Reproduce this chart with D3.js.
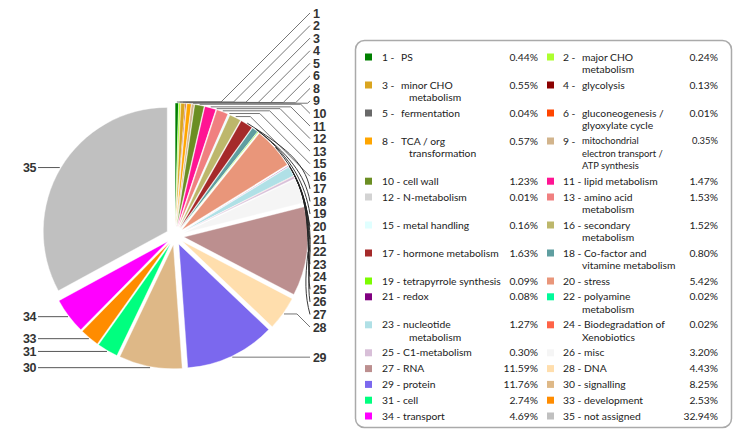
<!DOCTYPE html>
<html>
<head>
<meta charset="utf-8">
<script src="https://cdn.jsdelivr.net/npm/d3@7"></script>
<style>
  html, body { margin: 0; padding: 0; background: #fff; }
  svg { display: block; }
</style>
</head>
<body>
<svg id="chart" width="738" height="443"></svg>
<script>
// ---- data ----
const ids = [1, 2, 3, 4, 5, 6, 8, 9, 10, 11, 12, 13, 15, 16, 17, 18, 19, 20, 21, 22, 23, 24, 25, 26, 27, 28, 29, 30, 31, 33, 34, 35];
const names = [
  "PS", "major CHO\nmetabolism", "minor CHO\nmetabolism", "glycolysis",
  "fermentation", "gluconeogenesis /\nglyoxylate cycle", "TCA / org\ntransformation",
  "mitochondrial\nelectron transport /\nATP synthesis", "cell wall", "lipid metabolism",
  "N-metabolism", "amino acid\nmetabolism", "metal handling", "secondary\nmetabolism",
  "hormone metabolism", "Co-factor and\nvitamine metabolism", "tetrapyrrole synthesis",
  "stress", "redox", "polyamine\nmetabolism", "nucleotide\nmetabolism",
  "Biodegradation of\nXenobiotics", "C1-metabolism", "misc", "RNA", "DNA", "protein",
  "signalling", "cell", "development", "transport", "not assigned"
];
const values = [0.44, 0.24, 0.55, 0.13, 0.04, 0.01, 0.57, 0.35, 1.23, 1.47, 0.01, 1.53, 0.16, 1.52,
  1.63, 0.80, 0.09, 5.42, 0.08, 0.02, 1.27, 0.02, 0.30, 3.20, 11.59, 4.43, 11.76, 8.25, 2.74, 2.53, 4.69, 32.94];
const colors = ["#008000", "#adff2f", "#daa520", "#8b0000", "#696969", "#ff4500", "#ffa500", "#d2b48c",
  "#6b8e23", "#ff1493", "#d3d3d3", "#f08080", "#e0ffff", "#bdb76b", "#a52a2a", "#5f9ea0", "#7cfc00",
  "#e9967a", "#800080", "#00fa9a", "#b0e0e6", "#ff6347", "#d8bfd8", "#f5f5f5", "#bc8f8f", "#ffdead",
  "#7b68ee", "#deb887", "#00ff7f", "#ff8c00", "#ff00ff", "#c0c0c0"];

const data = ids.map((id, i) => ({ id, name: names[i], value: values[i], color: colors[i] }));

// ---- pie ----
const svg = d3.select("#chart");
const cx = 175, cy = 236, R = 124, explode = 9;

const pie = d3.pie().sort(null).value(d => d.value);
const arcs = pie(data);
const arcGen = d3.arc().innerRadius(0).outerRadius(R);

const g = svg.append("g").attr("transform", `translate(${cx},${cy})`);

arcs.forEach(a => {
  const mid = (a.startAngle + a.endAngle) / 2;
  a.mid = mid;
  a.ox = Math.sin(mid) * explode;
  a.oy = -Math.cos(mid) * explode;
  a.px = cx + a.ox + Math.sin(mid) * (R + 1);
  a.py = cy + a.oy - Math.cos(mid) * (R + 1);
});

g.selectAll("path.slice")
  .data(arcs)
  .join("path")
  .attr("class", "slice")
  .attr("transform", d => `translate(${d.ox},${d.oy})`)
  .attr("d", arcGen)
  .attr("fill", d => d.data.color)
  .attr("stroke", "#fff")
  .attr("stroke-width", 0.4);

// ---- pie labels ----
const labelX = 313;
const right = arcs.filter(a => a.mid < Math.PI);
const left = arcs.filter(a => a.mid >= Math.PI);
const step = 12.56;
right.forEach((a, i) => {
  const stacked = 13 + i * step;
  a.ly = a.mid > Math.PI / 2 ? Math.max(stacked, a.py) : stacked;
});
left.sort((a, b) => a.py - b.py);
let prev = -Infinity;
left.forEach(a => { a.ly = Math.max(a.py, prev + 12); prev = a.ly; });

const labelFont = "'Liberation Sans', Arial, sans-serif";
const lg = svg.append("g");
right.forEach(a => {
  const ex = labelX - 3;
  const dy = Math.abs(a.ly - a.py);
  const elbowX = ex - dy;
  if (elbowX > a.px + 5) {
    lg.append("path").attr("d", `M${a.px},${a.py}L${elbowX},${a.py}L${ex},${a.ly}`)
      .attr("fill", "none").attr("stroke", "#666").attr("stroke-width", 0.9);
  } else {
    const dist = Math.hypot(ex - a.px, a.ly - a.py);
    const tx = Math.cos(a.mid), ty = Math.sin(a.mid);
    const p1x = a.px + tx * dist * 0.45, p1y = a.py + ty * dist * 0.45;
    lg.append("path").attr("d", `M${a.px},${a.py}C${p1x},${p1y} ${ex - 5},${a.ly - dist * 0.3} ${ex},${a.ly}`)
      .attr("fill", "none").attr("stroke", "#222").attr("stroke-width", 0.9);
  }
  lg.append("text")
    .attr("x", labelX).attr("y", a.ly).attr("dy", "0.36em")
    .attr("font-family", labelFont)
    .attr("font-weight", "bold").attr("font-size", 12.5).attr("fill", "#333")
    .attr("letter-spacing", -0.4)
    .text(a.data.id);
});
left.forEach(a => {
  lg.append("path").attr("d", `M38,${a.ly}L${a.px},${a.py}`)
    .attr("fill", "none").attr("stroke", "#444").attr("stroke-width", 0.9);
  lg.append("text")
    .attr("x", 36).attr("y", a.ly).attr("dy", "0.36em").attr("text-anchor", "end")
    .attr("font-family", labelFont)
    .attr("font-weight", "bold").attr("font-size", 12.5).attr("fill", "#333")
    .attr("letter-spacing", -0.4)
    .text(a.data.id);
});

// ---- legend ----
const box = { x: 355.5, y: 40.5, w: 376, h: 387 };
svg.append("rect")
  .attr("x", box.x).attr("y", box.y).attr("width", box.w).attr("height", box.h)
  .attr("rx", 9).attr("ry", 9)
  .attr("fill", "#fff").attr("stroke", "#aaa").attr("stroke-width", 1.5);

const cols = [
  { sw: 365, num: 382, name: 401, wrap: 409, pct: 538 },
  { sw: 547, num: 563, name: 582, wrap: 582, pct: 718 }
];
const baseFs = 10.3;
const leg = svg.append("g")
  .attr("font-family", "Lato, 'Open Sans', sans-serif")
  .attr("font-size", baseFs).attr("fill", "#222");

const lineH = 12.2;
let rowY = 57;
for (let r = 0; r * 2 < data.length; r++) {
  const pair = data.slice(r * 2, r * 2 + 2);
  let maxLines = 1;
  pair.forEach((d, c) => {
    const col = cols[c];
    const lines = d.name.split("\n");
    maxLines = Math.max(maxLines, lines.length);
    const small = lines.length > 2;
    const fs = small ? 9.4 : baseFs;
    const lh = small ? 12.4 : lineH;
    leg.append("rect")
      .attr("x", col.sw).attr("y", rowY - 3.5).attr("width", 7).attr("height", 7)
      .attr("fill", d.color);
    lines.forEach((ln, li) => {
      const t = leg.append("text").attr("y", rowY + li * lh).attr("dy", "0.35em").attr("font-size", fs);
      if (li === 0) {
        if (d.id < 10) {
          leg.append("text").attr("x", col.num).attr("y", rowY).attr("dy", "0.35em").text(d.id + " -");
          t.attr("x", col.name).text(ln);
        } else {
          t.attr("x", col.num).text(d.id + " - " + ln);
        }
      } else {
        t.attr("x", col.wrap).text(ln);
      }
    });
    leg.append("text")
      .attr("x", col.pct).attr("y", rowY).attr("dy", "0.35em")
      .attr("text-anchor", "end").attr("font-size", fs)
      .text(d3.format(".2f")(d.value) + "%");
  });
  rowY += maxLines * lineH + 3.6;
}
</script>
</body>
</html>
